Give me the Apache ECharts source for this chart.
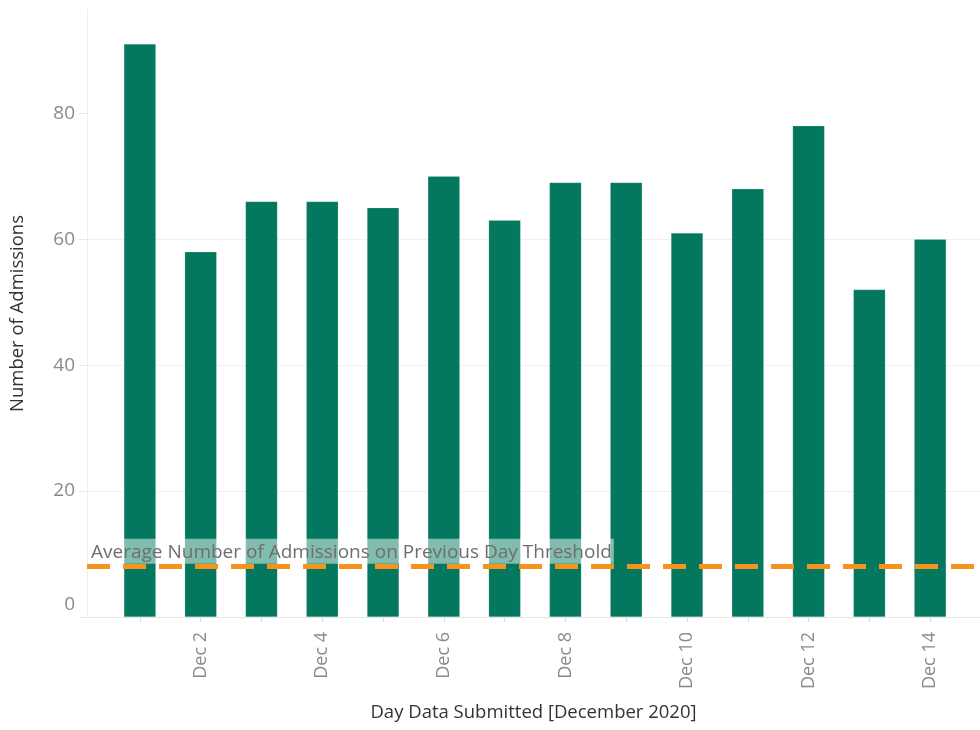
<!DOCTYPE html>
<html>
<head>
<meta charset="utf-8">
<script src="https://cdn.jsdelivr.net/npm/echarts@6/dist/echarts.min.js"></script>
<style>
  html, body { margin: 0; padding: 0; background: #fff; }
  #main { width: 980px; height: 730px; }
</style>
</head>
<body>
<div id="main"></div>
<script>
  // day of December 2020, admissions per day
  var days = [1, 2, 3, 4, 5, 6, 7, 8, 9, 10, 11, 12, 13, 14];
  var admissions = [91, 58, 66, 66, 65, 70, 63, 69, 69, 61, 68, 78, 52, 60];
  var labelDays = [2, 4, 6, 8, 10, 12, 14];
  var yTicks = [0, 20, 40, 60, 80];
  var thresholdValue = 8;
  var thresholdName = 'Average Number of Admissions on Previous Day Threshold';

  var font = '"Open Sans", sans-serif';
  var myChart = echarts.init(document.getElementById('main'));

  var option = {
    animation: false,
    textStyle: { fontFamily: font },
    grid: { left: 84, top: 10, right: 0, bottom: 113 },
    xAxis: {
      type: 'value',
      min: 0.13,
      max: 14.82,
      name: 'Day Data Submitted [December 2020]',
      nameLocation: 'middle',
      nameGap: 86,
      nameTextStyle: { color: '#333', fontSize: 18.5, fontFamily: font },
      axisLine: { show: true, lineStyle: { color: '#e6e6e6', width: 1 } },
      axisTick: { show: true, length: 5, lineStyle: { color: '#dcdcdc' }, customValues: days },
      axisLabel: {
        rotate: 90,
        margin: 15,
        color: '#8a8a8a',
        fontSize: 18,
        customValues: labelDays,
        formatter: function (v) { return 'Dec ' + v; }
      },
      splitLine: { show: false }
    },
    yAxis: {
      type: 'value',
      min: 0,
      max: 96.4,
      interval: 20,
      name: 'Number of Admissions',
      nameLocation: 'middle',
      nameGap: 60,
      nameTextStyle: { color: '#333', fontSize: 18.5, fontFamily: font },
      axisLine: { show: true, lineStyle: { color: '#efefef', width: 1 } },
      axisTick: { show: true, length: 8, lineStyle: { color: '#e6e6e6' }, customValues: yTicks },
      axisLabel: {
        margin: 12,
        color: '#8a8a8a',
        fontSize: 19,
        customValues: yTicks,
        formatter: function (v) { return v === 0 ? '{z|0}' : String(v); },
        rich: { z: { color: '#8a8a8a', fontSize: 19, padding: [0, 0, 24, 0] } }
      },
      splitLine: { show: true, showMaxLine: false, showMinLine: false, lineStyle: { color: '#f0f0f0', width: 1 } }
    },
    series: [
      {
        type: 'bar',
        barWidth: 32,
        itemStyle: { color: '#03785f', borderColor: 'rgba(255,255,255,0.3)', borderWidth: 0.5 },
        data: days.map(function (d, i) { return [d, admissions[i]]; }),
        markLine: {
          silent: true,
          symbol: 'none',
          z: 10,
          lineStyle: { color: '#f7921e', width: 5, type: [23, 13] },
          label: {
            show: true,
            position: 'insideStartTop',
            distance: [2, 3],
            formatter: thresholdName,
            color: '#6e6e6e',
            fontSize: 19,
            fontFamily: font,
            backgroundColor: 'rgba(255,255,255,0.5)',
            padding: [4, 2, 2, 2]
          },
          data: [{ yAxis: thresholdValue }]
        }
      }
    ]
  };

  myChart.setOption(option, true);
</script>
</body>
</html>
